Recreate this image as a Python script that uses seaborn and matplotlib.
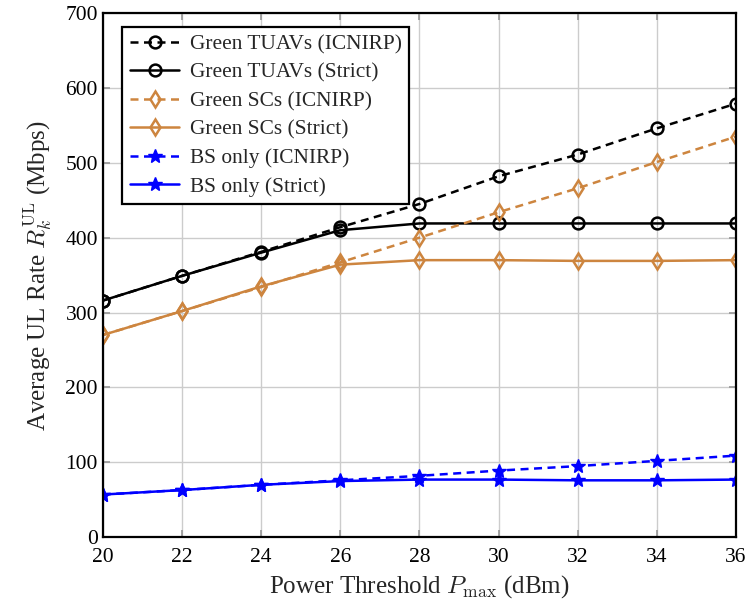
import matplotlib
matplotlib.use("Agg")
import matplotlib.pyplot as plt
import seaborn as sns

# Transmit power threshold (dBm)
p_max = [20, 22, 24, 26, 28, 30, 32, 34, 36]

# Average UL rate (Mbps) per scheme and EMF constraint
tuav_icnirp = [316, 349, 381, 414, 445, 482, 511, 546, 579]
tuav_strict = [316, 349, 380, 410, 419, 419, 419, 419, 419]
sc_icnirp = [270, 302, 334, 367, 400, 434, 466, 501, 535]
sc_strict = [270, 302, 335, 364, 370, 370, 369, 369, 370]
bs_icnirp = [57, 63, 70, 76, 82, 89, 95, 102, 109]
bs_strict = [57, 63, 70, 75, 77, 77, 76, 76, 77]

labels = [
    "Green TUAVs (ICNIRP)", "Green TUAVs (Strict)",
    "Green SCs (ICNIRP)", "Green SCs (Strict)",
    "BS only (ICNIRP)", "BS only (Strict)",
]
series = [tuav_icnirp, tuav_strict, sc_icnirp, sc_strict, bs_icnirp, bs_strict]

sns.set_theme(style="whitegrid")
plt.rcParams["font.family"] = ["Liberation Serif", "DejaVu Serif"]
plt.rcParams["mathtext.fontset"] = "cm"

orange = "#CD853F"
colors = ["black", "black", orange, orange, "blue", "blue"]
marks = ["o", "o", "d", "d", "*", "*"]
styles = [(0, (3.2, 2.2)), "-", (0, (3.2, 2.2)), "-", (0, (3.2, 2.2)), "-"]
msize = {"o": 8.5, "d": 8, "*": 10}

fig = plt.figure(figsize=(7.45, 6.05), dpi=100)
ax = fig.add_axes([0.138, 0.112, 0.850, 0.8665])

for lab, vals, c, m, ls in zip(labels, series, colors, marks, styles):
    hollow = m in ("o", "d")
    sns.lineplot(x=p_max, y=vals, ax=ax, label=lab, color=c,
                 linestyle=ls, linewidth=1.8, marker=m, markersize=msize[m],
                 markerfacecolor=("none" if hollow else c),
                 markeredgecolor=c, markeredgewidth=(1.8 if hollow else 1.0))

ax.set_xlim(20, 36)
ax.set_ylim(0, 700)
ax.set_xticks(p_max)
ax.set_yticks(range(0, 701, 100))
ax.grid(True, color="#cccccc", linewidth=1.0)
for s in ax.spines.values():
    s.set_color("black")
    s.set_linewidth(1.6)
ax.tick_params(axis="both", direction="in", length=5, labelcolor="black",
               labelsize=15.5, top=True, right=True, bottom=True, left=True,
               color="#999999")
ax.tick_params(axis="x", pad=8)
ax.set_xlabel(r"Power Threshold $P_{\max}$ (dBm)", fontsize=18, labelpad=4)
ax.set_ylabel(r"Average UL Rate $R_k^{\mathrm{UL}}$ (Mbps)", fontsize=18, labelpad=8)

leg = ax.legend(loc="upper left", bbox_to_anchor=(0.031, 0.974),
                borderaxespad=0, fontsize=15.4, frameon=True, fancybox=False,
                framealpha=1, edgecolor="black", handlelength=2.3,
                borderpad=0.35, labelspacing=0.4, handletextpad=0.5)
leg.get_frame().set_linewidth(1.6)

fig.savefig("out.png", dpi=100)
